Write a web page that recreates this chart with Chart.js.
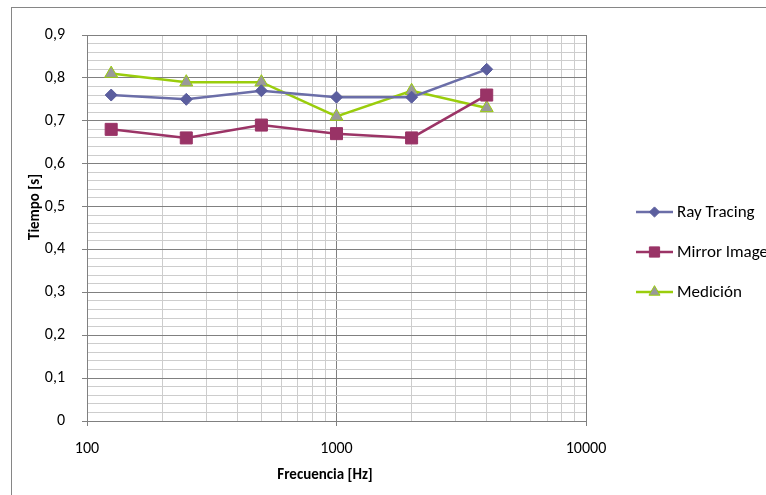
<!DOCTYPE html>
<html><head><meta charset="utf-8">
<script src="https://cdn.jsdelivr.net/npm/chart.js@4"></script>
<style>html,body{margin:0;padding:0;background:#fff;}#wrap{width:766px;height:495px;position:relative;}</style>
</head><body><div id="wrap"><canvas id="c" width="766" height="495"></canvas></div>
<script>
const frequencies = [125, 250, 500, 1000, 2000, 4000];
const rayTracing = [0.76, 0.75, 0.77, 0.755, 0.755, 0.82];
const mirrorImage = [0.68, 0.66, 0.69, 0.67, 0.66, 0.76];
const medicion = [0.81, 0.79, 0.79, 0.71, 0.77, 0.73];
const seriesNames = ['Ray Tracing', 'Mirror Image', 'Medición'];
const xMajorTicks = [100, 1000, 10000];
const xMinorTicks = [200,300,400,500,600,700,800,900,2000,3000,4000,5000,6000,7000,8000,9000];
const yTickLabels = ['0','0,1','0,2','0,3','0,4','0,5','0,6','0,7','0,8','0,9'];
const xTitle = 'Frecuencia [Hz]';
const yTitle = 'Tiempo [s]';

const FONT = 'Carlito, Calibri, Lato, sans-serif';
const MAJOR = '#808080', MINOR = '#cdcdcd';
const colors = {
  ray: {line:'#6b6ea8', fill:'#5b5e9e', border:'#5b5e9e', style:'rectRot', r:6},
  mir: {line:'#9b3466', fill:'#993366', border:'#993366', style:'rect', r:8.5},
  med: {line:'#9acd0c', fill:'#999999', border:'#9acd0c', style:'triangle', r:7.5}
};
const cfgs = [colors.ray, colors.mir, colors.med];
const values = [rayTracing, mirrorImage, medicion];

const isMajorY = v => Math.abs(v*10 - Math.round(v*10)) < 1e-6;

const decor = {
  id:'decor',
  beforeDraw(chart){
    const ctx = chart.ctx;
    ctx.save();
    ctx.fillStyle='#fff'; ctx.fillRect(0,0,chart.width,chart.height);
    ctx.strokeStyle='#868686'; ctx.lineWidth=1;
    ctx.strokeRect(11.5,7.5,900,700);
    ctx.restore();
  },
  afterDraw(chart){
    const ctx = chart.ctx;
    ctx.save();
    ctx.fillStyle='#000';
    ctx.font = 'bold 15px ' + FONT;
    ctx.textAlign='center'; ctx.textBaseline='middle';
    ctx.fillText(xTitle, 325, 475);
    ctx.translate(35, 207); ctx.rotate(-Math.PI/2);
    ctx.fillText(yTitle, 0, 0);
    ctx.restore();
    // legend
    const ys = [212, 252, 292];
    ctx.save();
    cfgs.forEach((c,i)=>{
      const y = ys[i];
      const cx = 654.5;
      ctx.strokeStyle = c.line; ctx.lineWidth = 2.5;
      ctx.beginPath(); ctx.moveTo(636,y); ctx.lineTo(673,y); ctx.stroke();
      ctx.fillStyle = c.fill; ctx.strokeStyle = c.border; ctx.lineWidth = 1;
      ctx.beginPath();
      const r = c.r*0.85;
      if (c.style==='rectRot'){ctx.moveTo(cx,y-r);ctx.lineTo(cx+r,y);ctx.lineTo(cx,y+r);ctx.lineTo(cx-r,y);ctx.closePath();}
      else if (c.style==='rect'){const s=r/Math.SQRT2; ctx.rect(cx-s,y-s,2*s,2*s);}
      else {const w=r*Math.sqrt(3)/2; ctx.moveTo(cx,y-r);ctx.lineTo(cx+w,y+r/2);ctx.lineTo(cx-w,y+r/2);ctx.closePath();}
      ctx.fill(); ctx.stroke();
      ctx.fillStyle='#000'; ctx.font = '17px ' + FONT; ctx.textAlign='left'; ctx.textBaseline='middle';
      ctx.fillText(seriesNames[i], 677, y + 1);
    });
    ctx.restore();
  }
};

new Chart(document.getElementById('c'), {
  type:'line',
  data:{
    datasets: seriesNames.map((n,i)=>({
      label:n,
      data: frequencies.map((f,j)=>({x:f, y:values[i][j]})),
      borderColor: cfgs[i].line,
      borderWidth: 2.5,
      backgroundColor: cfgs[i].fill,
      pointBackgroundColor: cfgs[i].fill,
      pointBorderColor: cfgs[i].border,
      pointBorderWidth: 1,
      pointStyle: cfgs[i].style,
      pointRadius: cfgs[i].r,
      pointHoverRadius: cfgs[i].r,
      tension: 0,
      fill:false
    }))
  },
  options:{
    responsive:false,
    animation:false,
    events:[],
    layout:{padding:{left:0, top:35, right:180, bottom:0}},
    plugins:{legend:{display:false}, tooltip:{enabled:false}},
    scales:{
      x:{
        type:'logarithmic', min:100, max:10000,
        afterBuildTicks(scale){
          scale.ticks = xMajorTicks.concat(xMinorTicks).sort((a,b)=>a-b).map(v=>({value:v, major: xMajorTicks.includes(v)}));
        },
        afterFit(scale){ scale.height = 74; },
        ticks:{
          autoSkip:false, maxRotation:0, padding:13,
          color:'#000', font:{family:FONT, size:16},
          callback:(v)=> xMajorTicks.includes(v) ? String(v) : ''
        },
        grid:{
          color: ctx => (ctx.tick && xMajorTicks.includes(ctx.tick.value)) ? MAJOR : MINOR,
          tickColor: ctx => (ctx.tick && xMajorTicks.includes(ctx.tick.value)) ? MAJOR : 'rgba(0,0,0,0)',
          tickLength:5, lineWidth:1
        },
        border:{color:MAJOR}
      },
      y:{
        min:0, max:0.9,
        afterBuildTicks(scale){
          const t=[]; for(let i=0;i<=45;i++){ t.push({value: Math.round(i*2)/100}); }
          scale.ticks = t;
        },
        afterFit(scale){ scale.width = 87; },
        ticks:{
          autoSkip:false, padding:17, color:'#000', font:{family:FONT, size:16},
          callback:(v)=> isMajorY(v) ? yTickLabels[Math.round(v*10)] : ''
        },
        grid:{
          color: ctx => (ctx.tick && isMajorY(ctx.tick.value)) ? MAJOR : MINOR,
          tickColor: ctx => (ctx.tick && isMajorY(ctx.tick.value)) ? MAJOR : 'rgba(0,0,0,0)',
          tickLength:5, lineWidth:1
        },
        border:{color:MAJOR}
      }
    }
  },
  plugins:[decor]
});
</script></body></html>
